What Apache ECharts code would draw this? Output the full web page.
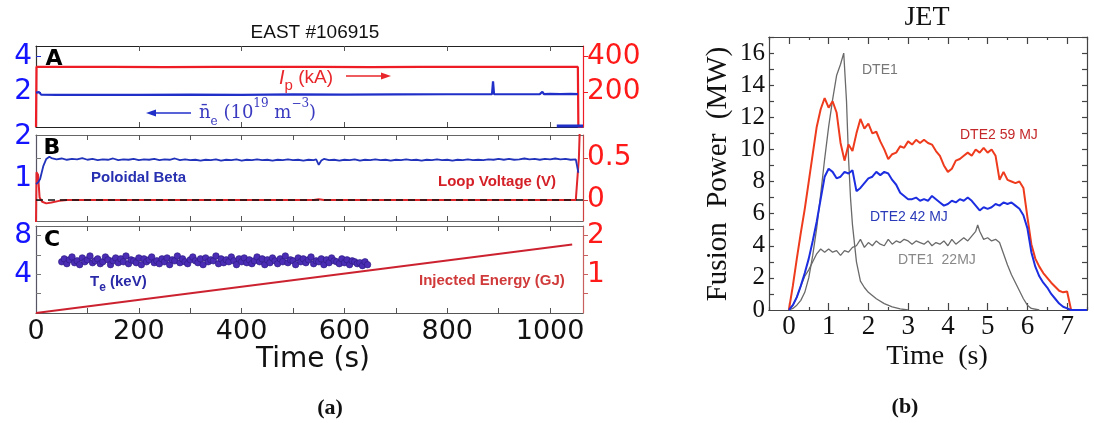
<!DOCTYPE html>
<html><head><meta charset="utf-8">
<script src="https://cdn.jsdelivr.net/npm/echarts@6/dist/echarts.min.js"></script>
<style>html,body{margin:0;padding:0;background:#fff}#c{width:1094px;height:423px}</style>
</head><body><div id="c"></div>
<script>
// ---------------- DATA: EAST #106915 ----------------
const eastTickLabels = [0, 200, 400, 600, 800, 1000];
const eastTicksA = [200, 400, 600, 800, 1000];
const eastTicksBC = [100, 200, 300, 400, 500, 600, 700, 800, 900, 1000];

const ipTime = [0, 1, 60, 150, 250, 350, 450, 550, 650, 750, 850, 950, 1054, 1055, 1064];
const ipKA   = [0, 342, 341, 342, 340, 342, 341, 342, 340, 341, 342, 341, 341, 0, 0];

const neTime = [0, 2, 6, 10, 40, 100, 200, 300, 400, 500, 600, 700, 800, 880, 887, 889, 891, 900, 980, 985, 988, 1000, 1020, 1040, 1054];
const neVal  = [1.95, 2.0, 1.98, 1.84, 1.82, 1.83, 1.82, 1.84, 1.83, 1.85, 1.84, 1.85, 1.86, 1.86, 1.86, 2.6, 1.86, 1.86, 1.87, 2.0, 1.87, 1.88, 1.87, 1.88, 1.87];
const neTailTime = [1013, 1064];
const neTailVal  = [0.06, 0.06];

const bpTime = [0, 4, 8, 14, 20, 26, 30, 40, 50, 60, 70, 80, 90, 100, 110, 120, 130, 140, 150, 160, 170, 180, 190, 200, 210, 220, 230, 240, 250, 260, 270, 280, 290, 300, 310, 320, 330, 340, 350, 360, 370, 380, 390, 400, 410, 420, 430, 440, 450, 460, 470, 480, 490, 500, 510, 520, 530, 540, 545, 550, 555, 560, 570, 580, 590, 600, 610, 620, 630, 640, 650, 660, 670, 680, 690, 700, 710, 720, 730, 740, 750, 760, 770, 780, 790, 800, 810, 820, 830, 840, 850, 860, 870, 880, 890, 900, 910, 920, 930, 940, 950, 960, 970, 980, 990, 1000, 1010, 1020, 1030, 1040, 1050, 1053, 1055];
const bpVal  = [0.88, 0.92, 1.0, 1.3, 1.48, 1.53, 1.5, 1.47, 1.49, 1.46, 1.48, 1.47, 1.5, 1.46, 1.48, 1.45, 1.47, 1.46, 1.49, 1.45, 1.47, 1.46, 1.48, 1.45, 1.47, 1.46, 1.48, 1.45, 1.47, 1.46, 1.49, 1.45, 1.47, 1.45, 1.46, 1.44, 1.46, 1.45, 1.47, 1.44, 1.46, 1.45, 1.47, 1.44, 1.46, 1.45, 1.47, 1.45, 1.46, 1.44, 1.46, 1.45, 1.47, 1.45, 1.46, 1.44, 1.46, 1.45, 1.47, 1.34, 1.44, 1.48, 1.45, 1.46, 1.44, 1.46, 1.45, 1.47, 1.44, 1.46, 1.45, 1.47, 1.45, 1.46, 1.44, 1.46, 1.45, 1.47, 1.45, 1.46, 1.44, 1.46, 1.45, 1.47, 1.45, 1.46, 1.44, 1.46, 1.45, 1.47, 1.45, 1.46, 1.45, 1.47, 1.46, 1.48, 1.46, 1.48, 1.46, 1.47, 1.49, 1.47, 1.48, 1.46, 1.48, 1.47, 1.49, 1.47, 1.48, 1.46, 1.47, 1.45, 1.15];

const vlTime = [0, 1, 4, 7, 12, 20, 30, 45, 60, 540, 550, 560, 1050, 1053, 1056, 1058];
const vlVal  = [-0.27, 0.33, 0.3, 0.03, -0.02, -0.04, -0.03, -0.01, 0, 0, 0.01, 0, 0, 0.02, 0.5, 0.9];
const zeroTime = [0, 1064];
const zeroVal  = [0, 0];

const teTime = [50,55,60,65,70,75,80,85,90,95,100,105,110,115,120,125,130,135,140,145,150,155,160,165,170,175,180,185,190,195,200,205,210,215,220,225,230,235,240,245,250,255,260,265,270,275,280,285,290,295,300,305,310,315,320,325,330,335,340,345,350,355,360,365,370,375,380,385,390,395,400,405,410,415,420,425,430,435,440,445,450,455,460,465,470,475,480,485,490,495,500,505,510,515,520,525,530,535,540,545,550,555,560,565,570,575,580,585,590,595,600,605,610,615,620,625,630,635,640,645];
const teKeV  = [5.3,5.6,5.1,5.5,5.8,5.2,5.4,5.0,5.7,5.3,5.5,5.9,5.2,5.4,5.6,5.1,5.3,5.8,5.5,5.0,5.4,5.7,5.2,5.6,5.3,5.9,5.1,5.5,5.4,5.2,5.7,5.0,5.6,5.3,5.5,5.8,5.2,5.4,5.1,5.6,5.3,5.7,5.0,5.5,5.4,5.9,5.2,5.6,5.3,5.1,5.5,5.8,5.4,5.2,5.6,5.0,5.7,5.3,5.5,5.4,5.9,5.1,5.6,5.2,5.5,5.3,5.8,5.4,5.0,5.6,5.3,5.7,5.2,5.5,5.1,5.4,5.8,5.3,5.6,5.0,5.5,5.2,5.7,5.4,5.1,5.6,5.3,5.9,5.2,5.5,5.4,5.0,5.7,5.3,5.6,5.2,5.5,5.8,5.1,5.4,5.3,5.6,5.0,5.5,5.2,5.7,5.4,5.3,5.1,5.6,5.2,5.5,5.0,5.4,5.3,5.1,5.2,4.9,5.3,5.0];

const egTime = [0, 1043];
const egGJ   = [0, 1.77];

// ---------------- DATA: JET ----------------
const jetTickLabels = [0, 1, 2, 3, 4, 5, 6, 7];
const jetHalfTicks = [-0.5, 0.5, 1.5, 2.5, 3.5, 4.5, 5.5, 6.5, 7.5];
const jetYLabels = [0, 2, 4, 6, 8, 10, 12, 14, 16];
const jetYTicks = [1, 2, 3, 4, 5, 6, 7, 8, 9, 10, 11, 12, 13, 14, 15, 16, 17];

const jetTime = [0,0.1,0.2,0.3,0.4,0.5,0.6,0.7,0.8,0.9,1.0,1.1,1.2,1.3,1.4,1.5,1.6,1.7,1.8,1.9,2.0,2.1,2.2,2.3,2.4,2.5,2.6,2.7,2.8,2.9,3.0,3.1,3.2,3.3,3.4,3.5,3.6,3.7,3.8,3.9,4.0,4.1,4.2,4.3,4.4,4.5,4.6,4.7,4.8,4.9,5.0,5.1,5.2,5.3,5.4,5.5,5.6,5.7,5.8,5.9,6.0,6.1,6.2,6.3,6.4,6.5,6.6,6.7,6.8,6.9,7.0,7.1,7.2,7.3,7.4,7.5];
const dte2_59 = [0,1.5,3.2,4.8,6.3,8.0,9.7,11.4,12.5,13.2,12.6,13.0,12.3,10.4,9.3,10.3,9.9,11.0,11.9,11.3,11.6,11.0,11.1,10.5,10.0,9.4,9.7,9.8,10.2,10.1,10.5,10.3,10.6,10.4,10.6,10.4,10.3,9.9,9.6,9.0,8.6,8.8,9.3,9.4,9.6,9.8,9.6,10.0,9.8,10.1,9.8,10.0,9.6,8.1,8.6,8.1,8.0,7.9,8.0,7.6,5.8,4.1,3.2,2.7,2.3,2.0,1.7,1.45,1.2,1.1,1.15,0,0,0,0,0];
const dte2_42 = [0,0.3,0.8,1.5,2.3,3.2,4.3,5.5,6.9,8.3,8.8,8.6,8.2,8.3,8.6,8.5,8.7,7.4,7.6,7.9,8.2,8.3,8.6,8.4,8.6,8.5,8.1,7.8,7.3,7.1,6.9,6.9,7.0,6.8,6.9,6.8,7.1,6.9,6.7,6.5,6.6,6.8,6.7,6.9,6.8,7.0,6.8,6.5,6.2,6.4,6.3,6.4,6.6,6.5,6.7,6.6,6.7,6.5,6.3,5.9,5.1,3.6,2.7,2.1,1.7,1.4,1.0,0.7,0.4,0.2,0.1,0,0,0,0,0];

const dte1PeakTime = [0,0.1,0.2,0.3,0.4,0.5,0.6,0.7,0.8,0.9,1.0,1.1,1.2,1.3,1.38,1.45,1.5,1.55,1.6,1.7,1.8,1.9,2.0,2.2,2.4,2.6,2.8,3.0];
const dte1PeakMW   = [0,0.1,0.3,0.6,1.1,2.0,3.4,5.1,7.2,9.4,11.4,13.1,14.6,15.3,16.0,13.0,9.5,7.0,5.3,3.0,1.8,1.4,1.1,0.7,0.4,0.2,0.07,0];

const dte1Time = [0,0.1,0.2,0.3,0.4,0.5,0.6,0.7,0.8,0.9,1.0,1.1,1.2,1.3,1.4,1.5,1.6,1.7,1.8,1.9,2.0,2.1,2.2,2.3,2.4,2.5,2.6,2.7,2.8,2.9,3.0,3.1,3.2,3.3,3.4,3.5,3.6,3.7,3.8,3.9,4.0,4.1,4.2,4.3,4.4,4.5,4.6,4.7,4.75,4.8,4.9,5.0,5.1,5.2,5.25,5.3,5.4,5.5,5.6,5.7,5.8,5.9,6.0,6.1,6.3];
const dte1MW   = [0,0.3,0.8,1.5,2.1,2.5,3.0,3.5,3.8,3.6,3.8,3.6,3.7,3.4,3.7,3.6,3.9,4.0,4.4,3.9,4.2,4.0,4.3,4.1,4.0,4.4,4.1,4.3,4.2,4.4,4.3,4.1,4.3,4.2,4.1,4.3,4.0,4.2,4.1,4.3,4.0,4.4,4.1,4.3,4.5,4.3,4.6,4.9,5.3,4.9,4.4,4.5,4.3,4.4,4.5,4.2,3.5,2.8,2.2,1.7,1.2,0.7,0.3,0.1,0];

// ---------------- BUILD ----------------
const pairs = (xs, ys) => xs.map((x, i) => [x, ys[i]]);
const plain = v => String(v);
const FS = 'DejaVu Sans';
const SERIF = 'Liberation Serif';
const BLUE_LBL = '#1414ff', RED_LBL = '#ff1a1a';

function eastX(grid, pos, ticks, labels, lineColor) {
  return {
    type: 'value', gridIndex: grid, position: pos, min: 0, max: 1064,
    axisLine: { show: true, onZero: false, lineStyle: { color: lineColor, width: 1.2 } },
    axisTick: { show: true, inside: true, length: 5, customValues: ticks, lineStyle: { color: '#555', width: 1 } },
    axisLabel: labels ? { show: true, customValues: eastTickLabels, formatter: plain, color: '#111', fontSize: 27, fontFamily: FS, margin: 5 } : { show: false },
    splitLine: { show: false }
  };
}
function yAx(grid, pos, min, max, labels, ticks, lblColor, lineColor, tickInside, tickColor) {
  return {
    type: 'value', gridIndex: grid, position: pos, min: min, max: max,
    axisLine: { show: true, onZero: false, lineStyle: { color: lineColor, width: 1.2 } },
    axisTick: { show: true, inside: tickInside, length: 5, customValues: ticks, lineStyle: { color: tickColor, width: 1 } },
    axisLabel: { show: labels.length > 0, customValues: labels, formatter: plain, color: lblColor, fontSize: 28, fontFamily: FS, margin: 4 },
    splitLine: { show: false }
  };
}
function jetX(pos, ticks, len, labels) {
  return {
    type: 'value', gridIndex: 3, position: pos, min: -0.5, max: 7.5,
    axisLine: { show: true, onZero: false, lineStyle: { color: '#444', width: 1.2 } },
    axisTick: { show: true, inside: true, length: len, customValues: ticks, lineStyle: { color: '#444', width: 1.2 } },
    axisLabel: labels ? { show: true, customValues: jetTickLabels, formatter: plain, color: '#111', fontSize: 27, fontFamily: SERIF, margin: 3 } : { show: false },
    splitLine: { show: false }
  };
}

const option = {
  animation: false,
  backgroundColor: '#fff',
  grid: [
    { left: 36, top: 46, width: 547, height: 81, outerBoundsMode: 'none', containLabel: false },
    { left: 36, top: 135, width: 547, height: 86, outerBoundsMode: 'none', containLabel: false },
    { left: 36, top: 226, width: 547, height: 87, outerBoundsMode: 'none', containLabel: false },
    { left: 769, top: 37, width: 318, height: 273, outerBoundsMode: 'none', containLabel: false }
  ],
  xAxis: [
    eastX(0, 'bottom', eastTicksA, false, '#222'),
    eastX(0, 'top', eastTicksA, false, '#222'),
    eastX(1, 'bottom', eastTicksBC, false, '#666'),
    eastX(1, 'top', eastTicksBC, false, '#666'),
    eastX(2, 'bottom', eastTicksBC, true, '#555'),
    eastX(2, 'top', eastTicksBC, false, '#666'),
    jetX('bottom', jetTickLabels, 7, true),
    jetX('top', jetTickLabels, 7, false),
    jetX('bottom', jetHalfTicks, 3, false),
    jetX('top', jetHalfTicks, 3, false)
  ],
  yAxis: [
    yAx(0, 'left', 0, 4.6, [2, 4], [2, 4], BLUE_LBL, '#333', true, '#2030d0'),
    yAx(0, 'right', 0, 460, [200, 400], [200, 400], RED_LBL, '#ee1c25', false, '#ee1c25'),
    yAx(1, 'left', 0, 2.05, [1, 2], [0.5, 1.5], BLUE_LBL, '#556', true, '#777'),
    yAx(1, 'right', -0.25, 0.775, [0, 0.5], [0, 0.5], RED_LBL, '#d04040', false, '#d04040'),
    yAx(2, 'left', 0, 9, [4, 8], [2, 4, 6, 8], BLUE_LBL, '#556', true, '#777'),
    yAx(2, 'right', 0, 2.25, [1, 2], [0.5, 1, 1.5, 2], RED_LBL, '#c86060', false, '#c86060'),
    {
      type: 'value', gridIndex: 3, position: 'left', min: 0, max: 17,
      axisLine: { show: true, onZero: false, lineStyle: { color: '#444', width: 1.2 } },
      axisTick: { show: true, inside: true, length: 5, customValues: jetYTicks, lineStyle: { color: '#444', width: 1.2 } },
      axisLabel: { customValues: jetYLabels, formatter: plain, color: '#111', fontSize: 25, fontFamily: SERIF, margin: 4 },
      splitLine: { show: false }
    },
    {
      type: 'value', gridIndex: 3, position: 'right', min: 0, max: 17,
      axisLine: { show: true, onZero: false, lineStyle: { color: '#444', width: 1.2 } },
      axisTick: { show: true, inside: true, length: 5, customValues: jetYTicks, lineStyle: { color: '#444', width: 1.2 } },
      axisLabel: { show: false },
      splitLine: { show: false }
    }
  ],
  series: [
    { type: 'line', xAxisIndex: 0, yAxisIndex: 1, data: pairs(ipTime, ipKA), showSymbol: false, lineStyle: { color: '#ee1c25', width: 2.2 } },
    { type: 'line', xAxisIndex: 0, yAxisIndex: 0, data: pairs(neTime, neVal), showSymbol: false, lineStyle: { color: '#1f2fc8', width: 2.2 } },
    { type: 'line', xAxisIndex: 0, yAxisIndex: 0, data: pairs(neTailTime, neTailVal), showSymbol: false, lineStyle: { color: '#1f2fc8', width: 3 } },
    { type: 'line', xAxisIndex: 2, yAxisIndex: 3, data: pairs(vlTime, vlVal), showSymbol: false, lineStyle: { color: '#e0252b', width: 2 } },
    { type: 'line', xAxisIndex: 2, yAxisIndex: 3, data: pairs(zeroTime, zeroVal), showSymbol: false, lineStyle: { color: '#111', width: 1.6, type: [7, 5] } },
    { type: 'line', xAxisIndex: 2, yAxisIndex: 2, data: pairs(bpTime, bpVal), showSymbol: false, lineStyle: { color: '#2233bb', width: 1.8 } },
    { type: 'scatter', xAxisIndex: 4, yAxisIndex: 4, data: pairs(teTime, teKeV), symbolSize: 6.5, itemStyle: { color: '#4b2db5', borderColor: '#2a1a80', borderWidth: 0.6, opacity: 1 } },
    { type: 'line', xAxisIndex: 4, yAxisIndex: 5, data: pairs(egTime, egGJ), showSymbol: false, lineStyle: { color: '#cc2230', width: 2 } },
    { type: 'line', xAxisIndex: 6, yAxisIndex: 6, data: pairs(dte1PeakTime, dte1PeakMW), showSymbol: false, lineStyle: { color: '#6a6a6a', width: 1.3 } },
    { type: 'line', xAxisIndex: 6, yAxisIndex: 6, data: pairs(dte1Time, dte1MW), showSymbol: false, lineStyle: { color: '#6a6a6a', width: 1.3 } },
    { type: 'line', xAxisIndex: 6, yAxisIndex: 6, data: pairs(jetTime, dte2_59), showSymbol: false, lineStyle: { color: '#ee3b1d', width: 2 } },
    { type: 'line', xAxisIndex: 6, yAxisIndex: 6, data: pairs(jetTime, dte2_42), showSymbol: false, lineStyle: { color: '#1c2ee0', width: 2 } }
  ],
  graphic: [
    { type: 'text', x: 315, y: 33, style: { text: 'EAST #106915', fontSize: 19, fontFamily: 'Liberation Sans', fill: '#111', align: 'center', verticalAlign: 'middle' } },
    { type: 'text', x: 54, y: 59, style: { text: 'A', fontSize: 22, fontWeight: 'bold', fontFamily: FS, fill: '#000', align: 'center', verticalAlign: 'middle' } },
    { type: 'text', x: 52, y: 148, style: { text: 'B', fontSize: 22, fontWeight: 'bold', fontFamily: FS, fill: '#000', align: 'center', verticalAlign: 'middle' } },
    { type: 'text', x: 52, y: 240, style: { text: 'C', fontSize: 22, fontWeight: 'bold', fontFamily: FS, fill: '#000', align: 'center', verticalAlign: 'middle' } },
    // Ip label + arrow
    { type: 'text', x: 279, y: 78, style: { text: '{i|I}{s|p}{t| (kA)}', fill: '#e8262b', verticalAlign: 'middle',
        rich: { i: { fontSize: 20, fontStyle: 'italic', fontFamily: 'Liberation Sans', fill: '#e8262b', lineHeight: 30, verticalAlign: 'middle' },
                s: { fontSize: 15, fontFamily: 'Liberation Sans', fill: '#e8262b', lineHeight: 16, verticalAlign: 'bottom' },
                t: { fontSize: 19, fontFamily: 'Liberation Sans', fill: '#e8262b', lineHeight: 30, verticalAlign: 'middle' } } } },
    { type: 'polyline', shape: { points: [[346, 76], [385, 76]] }, style: { stroke: '#e8262b', lineWidth: 1.6 } },
    { type: 'polygon', shape: { points: [[391, 76], [381, 72.5], [381, 79.5]] }, style: { fill: '#e8262b' } },
    // ne label + arrow
    { type: 'polyline', shape: { points: [[152, 113], [191, 113]] }, style: { stroke: '#1f2fc8', lineWidth: 1.6 } },
    { type: 'polygon', shape: { points: [[146, 113], [156, 109.5], [156, 116.5]] }, style: { fill: '#1f2fc8' } },
    { type: 'text', x: 199, y: 113, style: { text: '{m|n\u0304}{b|e}{m| (10}{p|19}{m| m}{p|\u22123}{m|)}', verticalAlign: 'middle',
        rich: { m: { fontSize: 18, fontFamily: 'DejaVu Serif', fill: '#3a3ac0', lineHeight: 30, verticalAlign: 'middle' },
                b: { fontSize: 12, fontFamily: 'DejaVu Serif', fill: '#3a3ac0', lineHeight: 17, verticalAlign: 'bottom' },
                p: { fontSize: 12, fontFamily: 'DejaVu Serif', fill: '#3a3ac0', lineHeight: 17, verticalAlign: 'top' } } } },
    // panel B/C annotations
    { type: 'text', x: 91, y: 178, style: { text: 'Poloidal Beta', fontSize: 15, fontWeight: 'bold', fontFamily: 'Liberation Sans', fill: '#2630b0', verticalAlign: 'middle' } },
    { type: 'text', x: 438, y: 182, style: { text: 'Loop Voltage (V)', fontSize: 15, fontWeight: 'bold', fontFamily: 'Liberation Sans', fill: '#d42027', verticalAlign: 'middle' } },
    { type: 'text', x: 90, y: 282, style: { text: '{a|T}{b|e}{a| (keV)}', verticalAlign: 'middle',
        rich: { a: { fontSize: 15, fontWeight: 'bold', fontFamily: 'Liberation Sans', fill: '#2a2aa8', lineHeight: 24, verticalAlign: 'middle' },
                b: { fontSize: 12, fontWeight: 'bold', fontFamily: 'Liberation Sans', fill: '#2a2aa8', lineHeight: 14, verticalAlign: 'bottom' } } } },
    { type: 'text', x: 419, y: 281, style: { text: 'Injected Energy (GJ)', fontSize: 15, fontWeight: 'bold', fontFamily: 'Liberation Sans', fill: '#d03a3a', verticalAlign: 'middle' } },
    { type: 'text', x: 313, y: 360, style: { text: 'Time (s)', fontSize: 28, fontFamily: FS, fill: '#111', align: 'center', verticalAlign: 'middle' } },
    { type: 'text', x: 330, y: 408, style: { text: '(a)', fontSize: 22, fontWeight: 'bold', fontFamily: SERIF, fill: '#111', align: 'center', verticalAlign: 'middle' } },
    // JET annotations
    { type: 'text', x: 927, y: 18, style: { text: 'JET', fontSize: 28, fontFamily: SERIF, fill: '#111', align: 'center', verticalAlign: 'middle' } },
    { type: 'text', x: 718, y: 174, rotation: Math.PI / 2, style: { text: 'Fusion  Power  (MW)', fontSize: 29, fontFamily: SERIF, fill: '#111', align: 'center', verticalAlign: 'middle' } },
    { type: 'text', x: 937, y: 357, style: { text: 'Time  (s)', fontSize: 28, fontFamily: SERIF, fill: '#111', align: 'center', verticalAlign: 'middle' } },
    { type: 'text', x: 905, y: 407, style: { text: '(b)', fontSize: 22, fontWeight: 'bold', fontFamily: SERIF, fill: '#111', align: 'center', verticalAlign: 'middle' } },
    { type: 'text', x: 862, y: 70, style: { text: 'DTE1', fontSize: 14, fontFamily: 'Liberation Sans', fill: '#777', verticalAlign: 'middle' } },
    { type: 'text', x: 960, y: 135, style: { text: 'DTE2 59 MJ', fontSize: 14, fontFamily: 'Liberation Sans', fill: '#c4282a', verticalAlign: 'middle' } },
    { type: 'text', x: 870, y: 217, style: { text: 'DTE2 42 MJ', fontSize: 14, fontFamily: 'Liberation Sans', fill: '#2a3ab8', verticalAlign: 'middle' } },
    { type: 'text', x: 898, y: 260, style: { text: 'DTE1  22MJ', fontSize: 14, fontFamily: 'Liberation Sans', fill: '#888', verticalAlign: 'middle' } }
  ]
};

const chart = echarts.init(document.getElementById('c'), null, { renderer: 'canvas' });
chart.setOption(option);
</script>
</body></html>
